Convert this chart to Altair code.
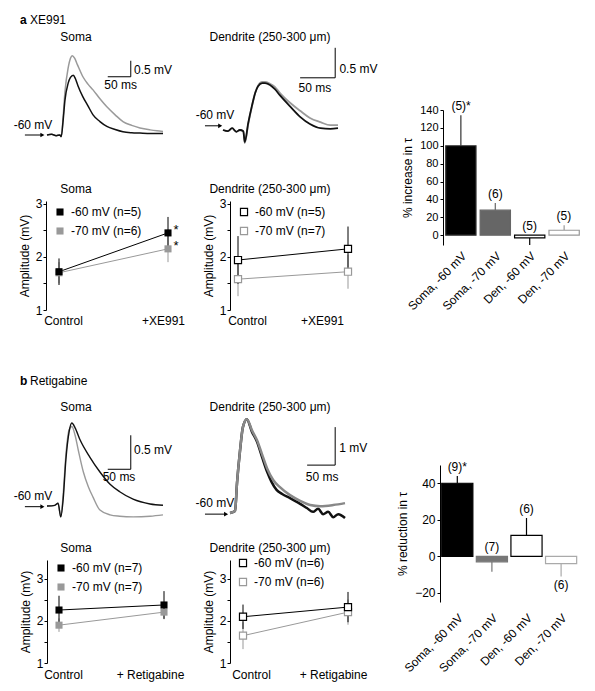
import altair as alt
import pandas as pd

W, H = 579, 675
MARGIN = 8
FONT = "Liberation Sans"


def P(v):
    return v - MARGIN


# ---------------- data ----------------
# a, soma traces (ms, mV above baseline)
sa_ctrl_t = [0, 10, 20, 28, 31, 35, 39, 46, 51, 57, 62, 67, 78, 89, 100, 115, 130, 148, 165, 184, 202, 225, 252]
sa_ctrl_v = [0, 0.02, -0.02, 0, -0.05, 0.45, 1.09, 1.62, 1.8, 1.87, 1.75, 1.55, 1.19, 0.91, 0.63, 0.42, 0.27, 0.17, 0.1, 0.07, 0.06, 0.05, 0.05]
sa_drug_t = [0, 10, 20, 28, 31, 35, 39, 46, 51, 55, 60, 66, 78, 89, 100, 115, 130, 148, 165, 184, 202, 224, 239, 252]
sa_drug_v = [0, 0.02, -0.02, 0, -0.05, 0.55, 1.35, 2.1, 2.4, 2.48, 2.4, 2.2, 1.82, 1.59, 1.41, 1.13, 0.88, 0.63, 0.42, 0.30, 0.22, 0.16, 0.13, 0.11]
# a, dendrite traces
da_t = [0, 7, 13, 19, 24, 29, 31, 36, 41, 46, 50, 56, 60, 67, 74, 81, 96, 110, 124, 139, 153, 164]
da_ctrl_v = [0, -0.02, 0.03, -0.03, 0, -0.02, -0.2, 0.12, 0.39, 0.62, 0.73, 0.78, 0.78, 0.75, 0.68, 0.58, 0.39, 0.22, 0.1, 0.03, 0.02, 0.03]
da_drug_v = [0, -0.02, 0.03, -0.03, 0, -0.02, -0.22, 0.1, 0.38, 0.62, 0.74, 0.8, 0.8, 0.77, 0.72, 0.62, 0.45, 0.32, 0.2, 0.13, 0.08, 0.08]
# b, soma traces
sb_ctrl_t = [0, 17, 24, 30, 35, 41, 48, 54, 61, 72, 93, 115, 137, 158, 187, 224, 252]
sb_ctrl_v = [0, 0.01, 0.04, -0.16, 0.09, 0.68, 1.09, 1.22, 1.15, 0.97, 0.72, 0.50, 0.32, 0.21, 0.10, 0.03, 0.01]
sb_drug_t = [0, 17, 24, 30, 35, 41, 48, 54, 61, 68, 79, 90, 100, 115, 137, 158, 187, 224, 252]
sb_drug_v = [0, 0.01, 0.04, -0.16, 0.16, 0.75, 1.12, 1.17, 1.04, 0.82, 0.50, 0.28, 0.13, -0.06, -0.13, -0.15, -0.16, -0.15, -0.13]
# b, dendrite traces
db_ctrl_t = [0, 9, 12.5, 18, 23, 30, 39, 48, 57, 66, 74, 83, 93, 107, 125, 137, 148, 157, 166, 175, 184, 193, 205]
db_ctrl_v = [0, 0.05, 0.79, 1.66, 2.26, 2.47, 2.14, 1.88, 1.48, 1.09, 0.82, 0.61, 0.5, 0.39, 0.24, 0.13, 0.03, 0.11, -0.03, 0.03, -0.11, -0.03, -0.13]
db_drug_t = [0, 9, 12.5, 18, 23, 30, 39, 48, 57, 66, 77, 89, 107, 125, 143, 161, 184, 205]
db_drug_v = [0, 0.05, 0.79, 1.66, 2.26, 2.47, 2.18, 1.92, 1.55, 1.18, 0.87, 0.68, 0.47, 0.32, 0.21, 0.18, 0.21, 0.26]

# amplitude summaries (mV, mean and SEM)
cond_a = ["Control", "+XE991"]
cond_b = ["Control", "+ Retigabine"]
soma_a_series = ["-60 mV (n=5)", "-70 mV (n=6)"]
soma_a_ctrl = [1.72, 1.70]
soma_a_drug = [2.45, 2.15]
soma_a_ctrl_e = [0.25, 0.2]
soma_a_drug_e = [0.3, 0.25]
den_a_series = ["-60 mV (n=5)", "-70 mV (n=7)"]
den_a_ctrl = [1.94, 1.58]
den_a_drug = [2.15, 1.72]
den_a_ctrl_e = [0.45, 0.32]
den_a_drug_e = [0.42, 0.32]
soma_b_series = ["-60 mV (n=7)", "-70 mV (n=7)"]
soma_b_ctrl = [2.26, 1.90]
soma_b_drug = [2.38, 2.21]
soma_b_ctrl_e = [0.34, 0.16]
soma_b_drug_e = [0.33, 0.17]
den_b_series = ["-60 mV (n=6)", "-70 mV (n=6)"]
den_b_ctrl = [2.10, 1.65]
den_b_drug = [2.33, 2.21]
den_b_ctrl_e = [0.29, 0.32]
den_b_drug_e = [0.36, 0.3]

# tau change bars
bar_cats = ["Soma, -60 mV", "Soma, -70 mV", "Den, -60 mV", "Den, -70 mV"]
tau_a = [100, 28, -3, 5.5]
tau_a_err = [34, 8, -8, 5.5]
tau_a_n = ["(5)*", "(6)", "(5)", "(5)"]
tau_a_side = ["above", "above", "above", "above"]
tau_b = [40, -3, 11.5, -4]
tau_b_err = [4, -5.5, 9.5, -7]
tau_b_n = ["(9)*", "(7)", "(6)", "(6)"]
tau_b_side = ["above", "above", "above", "below"]


# ---------------- helpers ----------------
def lin(domain, r0, r1):
    return alt.Scale(domain=domain, range=[P(r0), P(r1)], nice=False, zero=False)


def text(df, xs, ys, align="center", size=12, weight="normal", baseline="middle", dx=0, dy=0):
    return alt.Chart(df).mark_text(
        align=align, baseline=baseline, fontSize=size, fontWeight=weight,
        font=FONT, color="black", dx=dx, dy=dy
    ).encode(
        x=alt.X("x:Q", scale=xs, axis=None),
        y=alt.Y("y:Q", scale=ys, axis=None),
        text="label:N",
    )


def trace_panel(xs, ys, black, gray, lw, gray_col, gray_top, bar, labels, arrow):
    def line(d, col):
        df = pd.DataFrame({"t": d[0], "v": d[1]})
        return alt.Chart(df).mark_line(color=col, strokeWidth=lw, interpolate="monotone").encode(
            x=alt.X("t:Q", scale=xs, axis=None), y=alt.Y("v:Q", scale=ys, axis=None))
    lb = line(black, "#111111")
    lg = line(gray, gray_col)
    layers = [lb, lg] if gray_top else [lg, lb]
    bdf = pd.DataFrame([bar])
    layers.append(alt.Chart(bdf).mark_rule(color="black", strokeWidth=1).encode(
        x=alt.X("x0:Q", scale=xs, axis=None), x2="x1:Q", y=alt.Y("y0:Q", scale=ys, axis=None)))
    layers.append(alt.Chart(bdf).mark_rule(color="black", strokeWidth=1).encode(
        x=alt.X("x1:Q", scale=xs, axis=None), y=alt.Y("y0:Q", scale=ys, axis=None), y2="y1:Q"))
    adf = pd.DataFrame([arrow])
    layers.append(alt.Chart(adf).mark_rule(color="black", strokeWidth=1).encode(
        x=alt.X("x0:Q", scale=xs, axis=None), x2="x1:Q", y=alt.Y("y:Q", scale=ys, axis=None)))
    layers.append(alt.Chart(adf).mark_point(shape="triangle-right", filled=True, color="black", size=22, opacity=1).encode(
        x=alt.X("x1:Q", scale=xs, axis=None), y=alt.Y("y:Q", scale=ys, axis=None)))
    for lab in labels:
        d = pd.DataFrame([{"x": lab[0], "y": lab[1], "label": lab[2]}])
        layers.append(text(d, xs, ys, align=lab[3], size=lab[4], weight=lab[5]))
    return layers


def amp_panel(series, conds, ctrl, drug, ctrl_e, drug_e, xr, ydom, yr, axis_x, xlab_y,
              lab_off, filled, title, title_xy, leg_xy, star=False):
    rows = []
    for s, cv, dv, ce, de in reversed(list(zip(series, ctrl, drug, ctrl_e, drug_e))):
        rows.append(dict(series=s, c=0, val=cv, lo=cv - ce, hi=cv + ce))
        rows.append(dict(series=s, c=1, val=dv, lo=dv - de, hi=dv + de))
    df = pd.DataFrame(rows)
    xs = lin([0, 1], xr[0], xr[1])
    ys = lin(ydom, yr[0], yr[1])
    cscale = alt.Scale(domain=series, range=["#000000", "#999999"])
    xaxis = alt.Axis(
        orient="bottom", offset=P(xlab_y) - H, values=[0, 1],
        labelExpr=f"datum.value < 0.5 ? '{conds[0]}' : '{conds[1]}'",
        domain=False, ticks=False, tickSize=0, labelPadding=0, labelFlush=False,
        labelOffset={"condition": {"test": "datum.value < 0.5", "value": lab_off[0]}, "value": lab_off[1]},
        labelBaseline="middle", title=None, grid=False,
    )
    yaxis = alt.Axis(
        orient="left", offset=-P(axis_x), values=[1, 1.5, 2, 2.5, 3],
        labelExpr="datum.value % 1 == 0 ? format(datum.value, 'd') : ''",
        title="Amplitude (mV)", tickSize=3, labelPadding=1, titlePadding=4, grid=False,
    )
    lines = alt.Chart(df).mark_line(strokeWidth=1).encode(
        x=alt.X("c:Q", scale=xs, axis=None), y=alt.Y("val:Q", scale=ys, axis=None),
        color=alt.Color("series:N", scale=cscale, legend=None), detail="series:N")
    errs = alt.Chart(df).mark_rule(strokeWidth=1).encode(
        x=alt.X("c:Q", scale=xs, axis=None), y=alt.Y("lo:Q", scale=ys, axis=None), y2="hi:Q",
        color=alt.Color("series:N", scale=cscale, legend=None))
    legend = alt.Legend(orient="none", legendX=P(leg_xy[0]), legendY=P(leg_xy[1]), title=None,
                        symbolType="square", symbolSize=50, labelFontSize=12, labelFont=FONT,
                        rowPadding=7, padding=0, labelOffset=5, symbolStrokeWidth=1.2,
                        labelColor="black")
    if filled:
        pmark = alt.Chart(df).mark_point(shape="square", filled=True, size=50, opacity=1)
    else:
        pmark = alt.Chart(df).mark_point(shape="square", filled=False, fill="white", size=50,
                                         opacity=1, strokeWidth=1.2)
    pts = pmark.encode(
        x=alt.X("c:Q", scale=xs, axis=xaxis), y=alt.Y("val:Q", scale=ys, axis=yaxis),
        color=alt.Color("series:N", scale=cscale, legend=legend))
    layers = [lines, errs, pts]
    tdf = pd.DataFrame([{"x": title_xy[0], "y": title_xy[1], "label": title}])
    layers.append(text(tdf, xs, ys))
    if star:
        sdf = pd.DataFrame({"x": [1, 1], "y": drug, "label": ["*", "*"]})
        layers.append(text(sdf, xs, ys, size=13, dx=8, dy=-3))
    return layers


def bar_panel(vals, errs, ns, sides, fills, strokes, xr, pin, pout, ydom, yr, axis_x,
              ticks, ytitle, xlab_y, tick_font, title_pad):
    ends = [v + e for v, e in zip(vals, errs)]
    laby = [max(0, e) if s == "above" else e for e, s in zip(ends, sides)]
    df = pd.DataFrame({"cat": bar_cats, "val": vals, "end": ends, "n": ns, "side": sides,
                       "laby": laby, "base": [0.0] * len(vals)})

    def xs():
        return alt.Scale(domain=bar_cats, range=[P(xr[0]), P(xr[1])], paddingInner=pin, paddingOuter=pout)
    ys = lin(ydom, yr[0], yr[1])
    fscale = alt.Scale(domain=bar_cats, range=fills)
    sscale = alt.Scale(domain=bar_cats, range=strokes)
    xaxis = alt.Axis(orient="bottom", offset=P(xlab_y) - H, labelAngle=-45, labelAlign="right",
                     labelBaseline="top", domain=False, ticks=False, tickSize=0, labelPadding=0,
                     title=None, grid=False, labelFontSize=12)
    yaxis = alt.Axis(orient="left", offset=-P(axis_x), values=ticks, title=ytitle, tickSize=3,
                     labelPadding=2, titlePadding=title_pad, grid=False, labelFontSize=tick_font)
    err = alt.Chart(df).mark_rule(strokeWidth=1.2).encode(
        x=alt.X("cat:N", scale=xs(), sort=bar_cats, axis=None),
        y=alt.Y("val:Q", scale=ys, axis=None), y2="end:Q",
        stroke=alt.Stroke("cat:N", scale=sscale, legend=None))
    bars = alt.Chart(df).mark_bar(strokeWidth=1.2).encode(
        x=alt.X("cat:N", scale=xs(), sort=bar_cats, axis=xaxis),
        y=alt.Y("val:Q", scale=ys, axis=yaxis), y2="base:Q",
        fill=alt.Fill("cat:N", scale=fscale, legend=None),
        stroke=alt.Stroke("cat:N", scale=sscale, legend=None))
    above = alt.Chart(df).transform_filter("datum.side == 'above'").mark_text(
        baseline="bottom", dy=-2, fontSize=12, font=FONT, color="black").encode(
        x=alt.X("cat:N", scale=xs(), sort=bar_cats, axis=None),
        y=alt.Y("laby:Q", scale=ys, axis=None), text="n:N")
    below = alt.Chart(df).transform_filter("datum.side == 'below'").mark_text(
        baseline="top", dy=4, fontSize=12, font=FONT, color="black").encode(
        x=alt.X("cat:N", scale=xs(), sort=bar_cats, axis=None),
        y=alt.Y("laby:Q", scale=ys, axis=None), text="n:N")
    return [err, bars, above, below]


# ---------------- panels ----------------
layers = []
layers += trace_panel(
    lin([0, 252], 47, 163), lin([0, 2.5], 135, 55),
    (sa_ctrl_t, sa_ctrl_v), (sa_drug_t, sa_drug_v), 1.5, "#9a9a9a", False,
    dict(x0=132, x1=182, y0=1.82, y1=2.32),
    [(63, 3.06, "Soma", "center", 12, "normal"),
     (-58.7, 3.59, "a", "left", 12, "bold"),
     (-37, 3.59, "XE991", "left", 12, "normal"),
     (-30.4, 0.31, "-60 mV", "center", 12, "normal"),
     (189, 2.03, "0.5 mV", "left", 12, "normal"),
     (160, 1.56, "50 ms", "center", 12, "normal")],
    dict(x0=-48, x1=-10, y=0))

layers += trace_panel(
    lin([0, 164], 223, 338), lin([0, 1], 130, 70),
    (da_t, da_ctrl_v), (da_t, da_drug_v), 1.8, "#9a9a9a", False,
    dict(x0=110, x1=160, y0=0.87, y1=1.37),
    [(67, 1.55, "Dendrite (250-300 μm)", "center", 12, "normal"),
     (-11.4, 0.25, "-60 mV", "center", 12, "normal"),
     (166, 1.02, "0.5 mV", "left", 12, "normal"),
     (131, 0.70, "50 ms", "center", 12, "normal")],
    dict(x0=-25.7, x1=-4, y=0.07))

layers += trace_panel(
    lin([0, 252], 47, 163), lin([0, 1.2], 506, 424.4),
    (sb_ctrl_t, sb_ctrl_v), (sb_drug_t, sb_drug_v), 1.4, "#9a9a9a", False,
    dict(x0=132, x1=182, y0=0.54, y1=1.04),
    [(63, 1.46, "Soma", "center", 12, "normal"),
     (-58.7, 1.84, "b", "left", 12, "bold"),
     (-37, 1.84, "Retigabine", "left", 12, "normal"),
     (-30.4, 0.15, "-60 mV", "center", 12, "normal"),
     (189, 0.82, "0.5 mV", "left", 12, "normal"),
     (156.5, 0.43, "50 ms", "center", 12, "normal")],
    dict(x0=-48, x1=-10, y=-0.01))

layers += trace_panel(
    lin([0, 205], 230, 345), lin([0, 2.5], 513, 418),
    (db_ctrl_t, db_ctrl_v), (db_drug_t, db_drug_v), 2.5, "#888888", True,
    dict(x0=137.5, x1=187.5, y0=1.26, y1=2.26),
    [(71.4, 2.79, "Dendrite (250-300 μm)", "center", 12, "normal"),
     (-26.8, 0.26, "-60 mV", "center", 12, "normal"),
     (194.7, 1.71, "1 mV", "left", 12, "normal"),
     (164.3, 0.95, "50 ms", "center", 12, "normal")],
    dict(x0=-44.6, x1=-7, y=-0.03))

layers += amp_panel(soma_a_series, cond_a, soma_a_ctrl, soma_a_drug, soma_a_ctrl_e, soma_a_drug_e,
                    (59, 168), [1, 3.05], (310, 201), 46, 320, (4, -5), True,
                    "Soma", (0.156, 3.28), (54, 206), star=True)
layers += amp_panel(den_a_series, cond_a, den_a_ctrl, den_a_drug, den_a_ctrl_e, den_a_drug_e,
                    (238, 348), [1, 3.05], (310, 201), 230, 320, (9, -26), False,
                    "Dendrite (250-300 μm)", (0.29, 3.28), (238, 206))
layers += amp_panel(soma_b_series, cond_b, soma_b_ctrl, soma_b_drug, soma_b_ctrl_e, soma_b_drug_e,
                    (59, 164), [1, 3.45], (663, 560), 47, 674, (4, -14), True,
                    "Soma", (0.162, 3.74), (55, 562))
layers += amp_panel(den_b_series, cond_b, den_b_ctrl, den_b_drug, den_b_ctrl_e, den_b_drug_e,
                    (243, 348), [1, 3.45], (663, 560), 230, 674, (8, -15), False,
                    "Dendrite (250-300 μm)", (0.257, 3.74), (237, 557))

layers += bar_panel(tau_a, tau_a_err, tau_a_n, tau_a_side,
                    ["#000000", "#666666", "#ffffff", "#ffffff"],
                    ["#333333", "#666666", "#000000", "#999999"],
                    (444, 581), 0.12, 0.05, [-11, 140], (245, 110), 443,
                    [0, 20, 40, 60, 80, 100, 120, 140], "% increase in τ", 250, 11, 5)
layers += bar_panel(tau_b, tau_b_err, tau_b_n, tau_b_side,
                    ["#000000", "#777777", "#ffffff", "#ffffff"],
                    ["#000000", "#777777", "#000000", "#aaaaaa"],
                    (440, 578.4), 0.1, 0.05, [-25, 50], (602, 465), 440,
                    [-20, 0, 20, 40], "% reduction in τ", 612, 12, 5)

chart = alt.layer(*layers).resolve_scale(
    x="independent", y="independent", color="independent", fill="independent", stroke="independent"
).properties(
    width=W, height=H, autosize=alt.AutoSizeParams(type="none"), padding=0, background="white"
).configure_view(stroke=None).configure_axis(
    grid=False, domainColor="black", tickColor="black", labelColor="black", titleColor="black",
    labelFont=FONT, titleFont=FONT, titleFontWeight="normal", labelFontSize=12, titleFontSize=12,
    domainWidth=1, tickWidth=1
).configure_text(font=FONT)

chart.save("out.html", embed_options={"renderer": "svg", "actions": False})
